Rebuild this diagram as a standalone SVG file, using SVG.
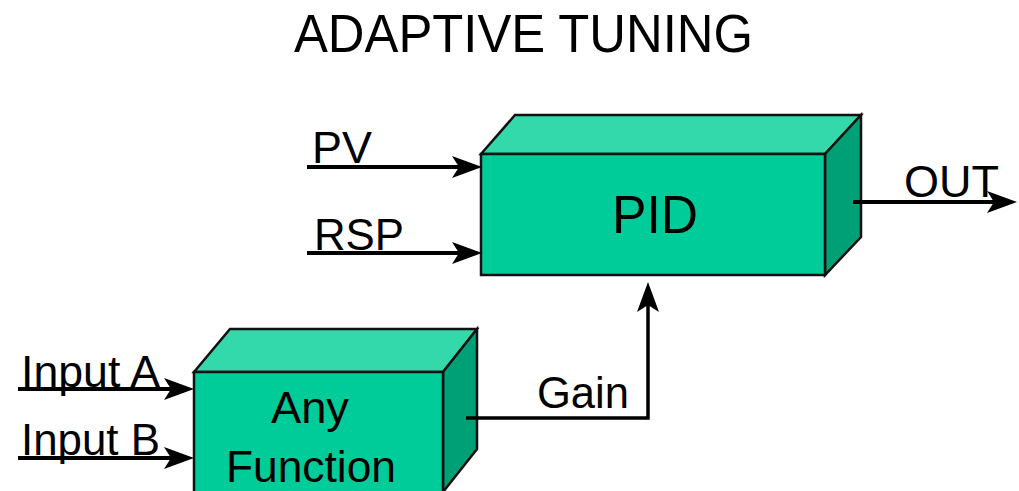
<svg xmlns="http://www.w3.org/2000/svg" width="1019" height="491" viewBox="0 0 1019 491">
<style>
text{font-family:"Liberation Sans",Arial,sans-serif;fill:#000}
.front{fill:#00CC99;stroke:#111;stroke-width:2.5;stroke-linejoin:miter}
.top{fill:#33D9AA;stroke:#111;stroke-width:2.5}
.side{fill:#00A077;stroke:#111;stroke-width:2.5}
.wire{fill:none;stroke:#000;stroke-width:4}
</style>
<defs>
<marker id="arr" markerUnits="userSpaceOnUse" viewBox="0 0 30 22" markerWidth="30" markerHeight="22" refX="10" refY="11" orient="auto">
<path d="M0,0 L30,11 L0,22 L7,11 Z" fill="#000"/>
</marker>
</defs>
<rect width="1019" height="491" fill="#fff"/>
<text x="294" y="52" font-size="54" textLength="459" lengthAdjust="spacingAndGlyphs">ADAPTIVE TUNING</text>
<g id="pid">
<polygon class="top" points="481,154 515,115 861,115 825,154"/>
<polygon class="side" points="825,154 861,115 861,237 825,275"/>
<rect class="front" x="481" y="154" width="344" height="121"/>
<text x="612" y="233" font-size="53" textLength="86" lengthAdjust="spacingAndGlyphs">PID</text>
</g>
<g id="anyfunction">
<polygon class="top" points="194,372 230,329 477,329 443,372"/>
<polygon class="side" points="443,372 477,329 477,449 443,492"/>
<rect class="front" x="194" y="372" width="249" height="125"/>
<text x="271" y="423" font-size="45" textLength="78" lengthAdjust="spacingAndGlyphs">Any</text>
<text x="226" y="482" font-size="45" textLength="170" lengthAdjust="spacingAndGlyphs">Function</text>
</g>
<g id="connectors">
<line class="wire" x1="307" y1="167" x2="462" y2="167" marker-end="url(#arr)"/>
<line class="wire" x1="307" y1="253" x2="462" y2="253" marker-end="url(#arr)"/>
<line class="wire" x1="853" y1="202" x2="997" y2="202" marker-end="url(#arr)"/>
<line class="wire" x1="18" y1="389" x2="174" y2="389" marker-end="url(#arr)"/>
<line class="wire" x1="18" y1="458" x2="174" y2="458" marker-end="url(#arr)"/>
<polyline class="wire" style="stroke-width:3.5" points="466,418 648,418 648,302" marker-end="url(#arr)"/>
</g>
<g id="labels">
<text x="312" y="163" font-size="45" textLength="60" lengthAdjust="spacingAndGlyphs">PV</text>
<text x="314" y="250" font-size="45" textLength="90" lengthAdjust="spacingAndGlyphs">RSP</text>
<text x="904" y="197" font-size="45" textLength="95" lengthAdjust="spacingAndGlyphs">OUT</text>
<text x="21" y="387" font-size="45" textLength="139" lengthAdjust="spacingAndGlyphs">Input A</text>
<text x="21" y="455" font-size="45" textLength="139" lengthAdjust="spacingAndGlyphs">Input B</text>
<text x="537" y="408" font-size="44" textLength="92" lengthAdjust="spacingAndGlyphs">Gain</text>
</g>
</svg>
